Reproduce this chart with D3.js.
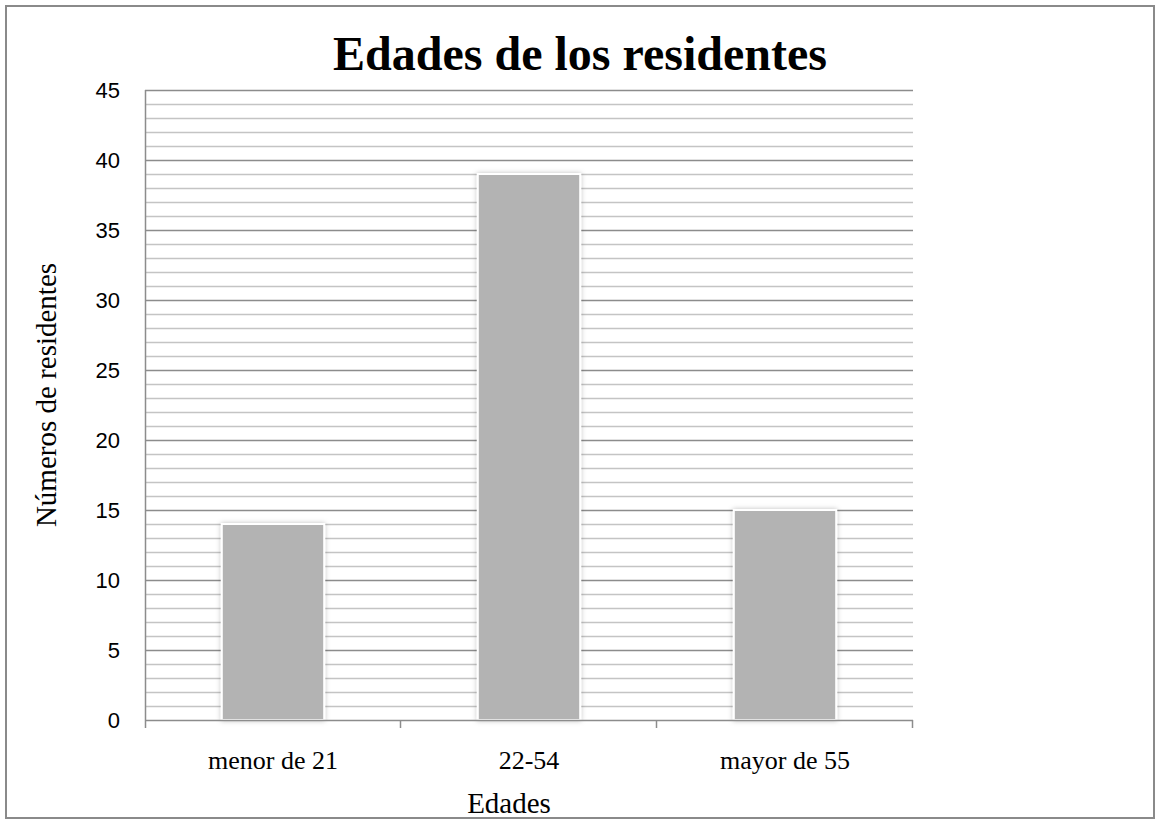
<!DOCTYPE html>
<html>
<head>
<meta charset="utf-8">
<script src="https://cdn.jsdelivr.net/npm/d3@7"></script>
<style>
  html, body { margin: 0; padding: 0; background: #fff; }
  svg { display: block; }
</style>
</head>
<body>
<svg id="chart" width="1156" height="822"></svg>
<script>
const categories = ["menor de 21", "22-54", "mayor de 55"];
const values = [14, 39, 15];
const yTicks = [0, 5, 10, 15, 20, 25, 30, 35, 40, 45];
const minorTicks = d3.range(0, 46, 1);
const title = "Edades de los residentes";
const xTitle = "Edades";
const yTitle = "Números de residentes";

const svg = d3.select("#chart");
const margin = { left: 145, right: 913, top: 90, bottom: 720 };

const x = d3.scaleBand().domain(categories).range([margin.left, margin.right]).paddingInner(0).paddingOuter(0);
const y = d3.scaleLinear().domain([0, 45]).range([margin.bottom, margin.top]);

const defs = svg.append("defs");
const f = defs.append("filter").attr("id", "shadow").attr("x", "-20%").attr("y", "-5%").attr("width", "140%").attr("height", "110%");
f.append("feDropShadow").attr("dx", 0).attr("dy", 0).attr("stdDeviation", 2.5).attr("flood-color", "#000").attr("flood-opacity", 0.25);

// minor gridlines
svg.append("g").selectAll("line").data(minorTicks.filter(d => d % 5 !== 0)).join("line")
  .attr("x1", margin.left).attr("x2", margin.right)
  .attr("y1", d => Math.round(y(d)) + 0.5).attr("y2", d => Math.round(y(d)) + 0.5)
  .attr("stroke", "#c4c4c4").attr("stroke-width", 1.5);

// major gridlines
svg.append("g").selectAll("line").data(yTicks.filter(d => d !== 0)).join("line")
  .attr("x1", margin.left).attr("x2", margin.right)
  .attr("y1", d => Math.round(y(d)) + 0.5).attr("y2", d => Math.round(y(d)) + 0.5)
  .attr("stroke", "#8c8c8c").attr("stroke-width", 1.5);

// bars
const bw = x.bandwidth() * 0.4;
svg.append("g").selectAll("rect").data(categories).join("rect")
  .attr("x", (d) => x(d) + (x.bandwidth() - bw) / 2)
  .attr("y", (d, i) => y(values[i]))
  .attr("width", bw)
  .attr("height", (d, i) => y(0) - y(values[i]))
  .attr("fill", "#b3b3b3")
  .attr("stroke", "#ffffff")
  .attr("stroke-width", 2)
  .attr("filter", "url(#shadow)");

// y axis line
svg.append("line").attr("x1", margin.left + 0.5).attr("x2", margin.left + 0.5)
  .attr("y1", margin.top).attr("y2", margin.bottom + 8)
  .attr("stroke", "#8c8c8c").attr("stroke-width", 1.5);

// x axis
const xAxis = d3.axisBottom(x).tickSize(0).tickFormat(d => d);
const gx = svg.append("g").attr("transform", `translate(0,${margin.bottom + 0.5})`).call(xAxis);
gx.select(".domain").remove();
gx.selectAll("text")
  .attr("font-family", "'Liberation Serif', 'Times New Roman', serif")
  .attr("font-size", 26).attr("fill", "#000").attr("dy", 0).attr("y", 48);
svg.append("line").attr("x1", margin.left).attr("x2", margin.right)
  .attr("y1", margin.bottom + 0.5).attr("y2", margin.bottom + 0.5)
  .attr("stroke", "#8c8c8c").attr("stroke-width", 1.5);
const bounds = categories.map(c => x(c)).concat([margin.right]);
svg.append("g").selectAll("line").data(bounds.slice(1)).join("line")
  .attr("x1", d => d - 0.5).attr("x2", d => d - 0.5)
  .attr("y1", margin.bottom).attr("y2", margin.bottom + 8)
  .attr("stroke", "#8c8c8c").attr("stroke-width", 1.5);

// y axis labels
const yAxis = d3.axisLeft(y).tickValues(yTicks).tickSize(0).tickPadding(25);
const gy = svg.append("g").attr("transform", `translate(${margin.left},0)`).call(yAxis);
gy.select(".domain").remove();
gy.selectAll("text")
  .attr("font-family", "'Liberation Sans', Arial, sans-serif")
  .attr("font-size", 22).attr("fill", "#000").attr("dy", "0.35em");

// title
svg.append("text").attr("x", 580).attr("y", 70).attr("text-anchor", "middle")
  .attr("font-family", "'Liberation Serif', 'Times New Roman', serif")
  .attr("font-weight", "bold").attr("font-size", 48).attr("fill", "#000")
  .text(title);

// axis titles
svg.append("text").attr("x", 509).attr("y", 813).attr("text-anchor", "middle")
  .attr("font-family", "'Liberation Serif', 'Times New Roman', serif")
  .attr("font-size", 29).attr("fill", "#000").text(xTitle);

svg.append("text").attr("transform", "translate(56,395) rotate(-90)").attr("text-anchor", "middle")
  .attr("font-family", "'Liberation Serif', 'Times New Roman', serif")
  .attr("font-size", 29).attr("fill", "#000").text(yTitle);

// outer border
svg.append("rect").attr("x", 6).attr("y", 6).attr("width", 1148).attr("height", 812)
  .attr("fill", "none").attr("stroke", "#8a8a8a").attr("stroke-width", 2);
</script>
</body>
</html>
